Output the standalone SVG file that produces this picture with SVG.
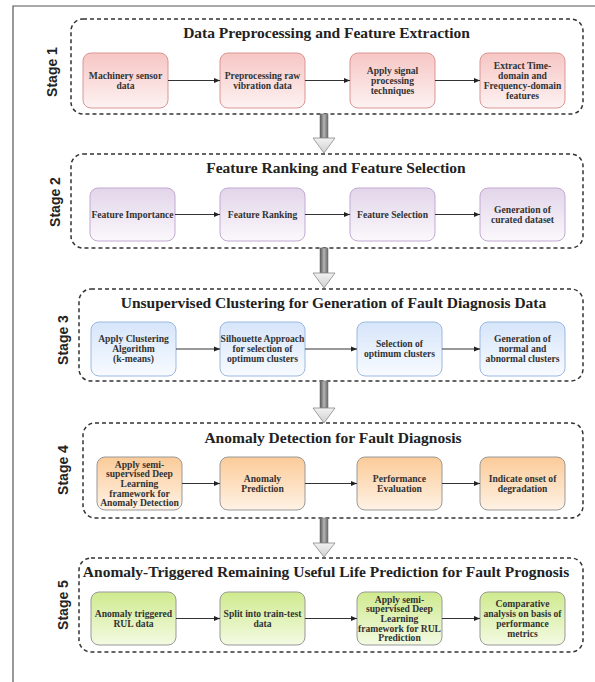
<svg xmlns="http://www.w3.org/2000/svg" width="595" height="682" viewBox="0 0 595 682">
<style>
.frame{fill:none;stroke:#555;stroke-width:1.2}
.stage{fill:none;stroke:#333;stroke-width:1.5;stroke-dasharray:4 3}
.title{font-family:'Liberation Serif','Times New Roman',Times,'DejaVu Serif',serif;font-weight:bold;font-size:15.5px;fill:#222;text-anchor:middle}
.slabel{font-family:'Liberation Sans',Arial,sans-serif;font-weight:bold;font-size:14px;fill:#222;text-anchor:middle;dominant-baseline:central}
.nt{font-family:'Liberation Serif','Times New Roman',Times,'DejaVu Serif',serif;font-weight:bold;font-size:9.6px;fill:#333;text-anchor:middle}
.n1{fill:url(#gRed);stroke:#d99694;stroke-width:1}
.n2{fill:url(#gPur);stroke:#c2a9d2;stroke-width:1}
.n3{fill:url(#gBlu);stroke:#9db8e0;stroke-width:1}
.n4{fill:url(#gOra);stroke:#999;stroke-width:1}
.n5{fill:url(#gGrn);stroke:#999;stroke-width:1}
.conn{stroke:#333;stroke-width:1;fill:none;marker-end:url(#ah)}
.shaft{fill:url(#gShaft);stroke:#777;stroke-width:0.6}
.head{fill:url(#gHead);stroke:#888;stroke-width:0.8}
</style>
<defs>
<linearGradient id="gRed" x1="0" y1="0" x2="0" y2="1"><stop offset="0" stop-color="#f6c6c4"/><stop offset="1" stop-color="#fdf2f2"/></linearGradient>
<linearGradient id="gPur" x1="0" y1="0" x2="0" y2="1"><stop offset="0" stop-color="#e2d5ea"/><stop offset="1" stop-color="#fbf8fc"/></linearGradient>
<linearGradient id="gBlu" x1="0" y1="0" x2="0" y2="1"><stop offset="0" stop-color="#d6e5fa"/><stop offset="1" stop-color="#f8fbff"/></linearGradient>
<linearGradient id="gOra" x1="0" y1="0" x2="0" y2="1"><stop offset="0" stop-color="#fbcb98"/><stop offset="1" stop-color="#fff2e5"/></linearGradient>
<linearGradient id="gGrn" x1="0" y1="0" x2="0" y2="1"><stop offset="0" stop-color="#cfea8e"/><stop offset="1" stop-color="#f3fae2"/></linearGradient>
<linearGradient id="gShaft" x1="0" y1="0" x2="1" y2="0"><stop offset="0" stop-color="#555"/><stop offset="0.5" stop-color="#b5b5b5"/><stop offset="1" stop-color="#666"/></linearGradient>
<linearGradient id="gHead" x1="0" y1="0" x2="0" y2="1"><stop offset="0" stop-color="#f2f2f2"/><stop offset="1" stop-color="#d0d0d0"/></linearGradient>
<marker id="ah" viewBox="0 0 6 6" refX="6" refY="3" markerWidth="6" markerHeight="6" markerUnits="userSpaceOnUse" orient="auto"><path d="M0,0.5 L6,3 L0,5.5 Z" fill="#222"/></marker>
</defs>
<rect width="595" height="682" fill="#fff"/>
<path class="frame" d="M13,682 V6 H595"/>

<g id="stage1">
<rect class="stage" x="71" y="19" width="512" height="95" rx="12"/>
<text class="title" x="326.5" y="38">Data Preprocessing and Feature Extraction</text>
<text class="slabel" transform="translate(52,72) rotate(-90)">Stage 1</text>
</g>
<g id="stage2">
<rect class="stage" x="71" y="154" width="512" height="94" rx="12"/>
<text class="title" x="336" y="173">Feature Ranking and Feature Selection</text>
<text class="slabel" transform="translate(55,202) rotate(-90)">Stage 2</text>
</g>
<g id="stage3">
<rect class="stage" x="79" y="289" width="504" height="92" rx="12"/>
<text class="title" x="333.5" y="308">Unsupervised Clustering for Generation of Fault Diagnosis Data</text>
<text class="slabel" transform="translate(63,340) rotate(-90)">Stage 3</text>
</g>
<g id="stage4">
<rect class="stage" x="83" y="423" width="500" height="95" rx="12"/>
<text class="title" x="333" y="443">Anomaly Detection for Fault Diagnosis</text>
<text class="slabel" transform="translate(63,470) rotate(-90)">Stage 4</text>
</g>
<g id="stage5">
<rect class="stage" x="79" y="558" width="504" height="94" rx="12"/>
<text class="title" x="326" y="577">Anomaly-Triggered Remaining Useful Life Prediction for Fault Prognosis</text>
<text class="slabel" transform="translate(63,605) rotate(-90)">Stage 5</text>
</g>

<!-- Stage 1 nodes -->
<g id="s1n1"><rect class="n1" x="83" y="53" width="85" height="55" rx="8"/><text class="nt" x="125.5" y="78.8">Machinery sensor</text><text class="nt" x="125.5" y="88.8">data</text></g>
<g id="s1n2"><rect class="n1" x="220" y="53" width="85" height="55" rx="8"/><text class="nt" x="262.5" y="78.8">Preprocessing raw</text><text class="nt" x="262.5" y="88.8">vibration data</text></g>
<g id="s1n3"><rect class="n1" x="350" y="53" width="85" height="55" rx="8"/><text class="nt" x="392.5" y="73.8">Apply signal</text><text class="nt" x="392.5" y="83.8">processing</text><text class="nt" x="392.5" y="93.8">techniques</text></g>
<g id="s1n4"><rect class="n1" x="480" y="53" width="85" height="55" rx="8"/><text class="nt" x="522.5" y="68.8">Extract Time-</text><text class="nt" x="522.5" y="78.8">domain and</text><text class="nt" x="522.5" y="88.8">Frequency-domain</text><text class="nt" x="522.5" y="98.8">features</text></g>

<!-- Stage 2 nodes -->
<g id="s2n1"><rect class="n2" x="90" y="188" width="85" height="53" rx="8"/><text class="nt" x="132.5" y="217.8">Feature Importance</text></g>
<g id="s2n2"><rect class="n2" x="220" y="188" width="85" height="53" rx="8"/><text class="nt" x="262.5" y="217.8">Feature Ranking</text></g>
<g id="s2n3"><rect class="n2" x="350" y="188" width="85" height="53" rx="8"/><text class="nt" x="392.5" y="217.8">Feature Selection</text></g>
<g id="s2n4"><rect class="n2" x="480" y="188" width="85" height="53" rx="8"/><text class="nt" x="522.5" y="212.8">Generation of</text><text class="nt" x="522.5" y="222.8">curated dataset</text></g>

<!-- Stage 3 nodes -->
<g id="s3n1"><rect class="n3" x="91" y="322" width="85" height="54" rx="8"/><text class="nt" x="133.5" y="342.3">Apply Clustering</text><text class="nt" x="133.5" y="352.3">Algorithm</text><text class="nt" x="133.5" y="362.3">(k-means)</text></g>
<g id="s3n2"><rect class="n3" x="220" y="322" width="85" height="54" rx="8"/><text class="nt" x="262.5" y="342.3">Silhouette Approach</text><text class="nt" x="262.5" y="352.3">for selection of</text><text class="nt" x="262.5" y="362.3">optimum clusters</text></g>
<g id="s3n3"><rect class="n3" x="357" y="322" width="85" height="54" rx="8"/><text class="nt" x="399.5" y="347.3">Selection of</text><text class="nt" x="399.5" y="357.3">optimum clusters</text></g>
<g id="s3n4"><rect class="n3" x="480" y="322" width="85" height="54" rx="8"/><text class="nt" x="522.5" y="342.3">Generation of</text><text class="nt" x="522.5" y="352.3">normal and</text><text class="nt" x="522.5" y="362.3">abnormal clusters</text></g>

<!-- Stage 4 nodes -->
<g id="s4n1"><rect class="n4" x="97" y="457" width="85" height="53" rx="8"/><text class="nt" x="139.5" y="467.5">Apply semi-</text><text class="nt" x="139.5" y="477.2">supervised Deep</text><text class="nt" x="139.5" y="486.9">Learning</text><text class="nt" x="139.5" y="496.6">framework for</text><text class="nt" x="139.5" y="506.3">Anomaly Detection</text></g>
<g id="s4n2"><rect class="n4" x="220" y="457" width="85" height="53" rx="8"/><text class="nt" x="262.5" y="481.8">Anomaly</text><text class="nt" x="262.5" y="491.8">Prediction</text></g>
<g id="s4n3"><rect class="n4" x="357" y="457" width="85" height="53" rx="8"/><text class="nt" x="399.5" y="481.8">Performance</text><text class="nt" x="399.5" y="491.8">Evaluation</text></g>
<g id="s4n4"><rect class="n4" x="480" y="457" width="85" height="53" rx="8"/><text class="nt" x="522.5" y="481.8">Indicate onset of</text><text class="nt" x="522.5" y="491.8">degradation</text></g>

<!-- Stage 5 nodes -->
<g id="s5n1"><rect class="n5" x="91" y="592" width="85" height="53" rx="8"/><text class="nt" x="133.5" y="616.8">Anomaly triggered</text><text class="nt" x="133.5" y="626.8">RUL data</text></g>
<g id="s5n2"><rect class="n5" x="220" y="592" width="85" height="53" rx="8"/><text class="nt" x="262.5" y="616.8">Split into train-test</text><text class="nt" x="262.5" y="626.8">data</text></g>
<g id="s5n3"><rect class="n5" x="357" y="592" width="85" height="53" rx="8"/><text class="nt" x="399.5" y="602.5">Apply semi-</text><text class="nt" x="399.5" y="612.2">supervised Deep</text><text class="nt" x="399.5" y="621.9">Learning</text><text class="nt" x="399.5" y="631.6">framework for RUL</text><text class="nt" x="399.5" y="641.3">Prediction</text></g>
<g id="s5n4"><rect class="n5" x="480" y="592" width="85" height="53" rx="8"/><text class="nt" x="522.5" y="606.8">Comparative</text><text class="nt" x="522.5" y="616.8">analysis on basis of</text><text class="nt" x="522.5" y="626.8">performance</text><text class="nt" x="522.5" y="636.8">metrics</text></g>

<g id="connectors">
<line class="conn" x1="168" y1="80.5" x2="220" y2="80.5"/>
<line class="conn" x1="305" y1="80.5" x2="350" y2="80.5"/>
<line class="conn" x1="435" y1="80.5" x2="480" y2="80.5"/>
<line class="conn" x1="175" y1="214.5" x2="220" y2="214.5"/>
<line class="conn" x1="305" y1="214.5" x2="350" y2="214.5"/>
<line class="conn" x1="435" y1="214.5" x2="480" y2="214.5"/>
<line class="conn" x1="176" y1="349" x2="220" y2="349"/>
<line class="conn" x1="305" y1="349" x2="357" y2="349"/>
<line class="conn" x1="442" y1="349" x2="480" y2="349"/>
<line class="conn" x1="182" y1="483.5" x2="220" y2="483.5"/>
<line class="conn" x1="305" y1="483.5" x2="357" y2="483.5"/>
<line class="conn" x1="442" y1="483.5" x2="480" y2="483.5"/>
<line class="conn" x1="176" y1="618.5" x2="220" y2="618.5"/>
<line class="conn" x1="305" y1="618.5" x2="357" y2="618.5"/>
<line class="conn" x1="442" y1="618.5" x2="480" y2="618.5"/>
<g id="blockarrow1"><rect class="shaft" x="320" y="114" width="8" height="24"/><path class="head" d="M313,138 H335 L324,153 Z"/></g>
<g id="blockarrow2"><rect class="shaft" x="320" y="248" width="8" height="25"/><path class="head" d="M313,273 H335 L324,288 Z"/></g>
<g id="blockarrow3"><rect class="shaft" x="320" y="381" width="8" height="27"/><path class="head" d="M313,408 H335 L324,423 Z"/></g>
<g id="blockarrow4"><rect class="shaft" x="320" y="518" width="8" height="25"/><path class="head" d="M313,543 H335 L324,557 Z"/></g>
</g>
</svg>
